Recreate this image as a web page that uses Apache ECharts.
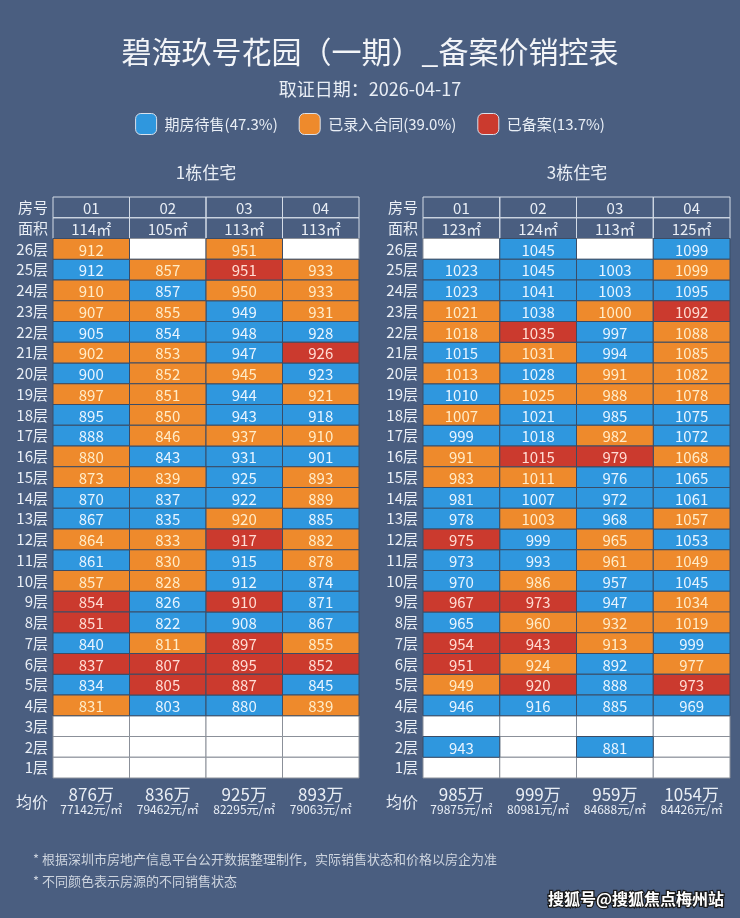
<!DOCTYPE html>
<html><head><meta charset="utf-8">
<script src="https://cdn.jsdelivr.net/npm/echarts@6/dist/echarts.min.js"></script>
<style>html,body{margin:0;padding:0;background:#4a5e80;}#c{width:740px;height:918px;}</style>
</head><body><div id="c"></div>
<script>
// ---------- data ----------
const floors = ['26层','25层','24层','23层','22层','21层','20层','19层','18层','17层','16层','15层','14层','13层','12层','11层','10层','9层','8层','7层','6层','5层','4层','3层','2层','1层'];
const rowLabels = ['房号','面积'].concat(floors);
const units = ['01','02','03','04'];
const buildingNames = ['1栋住宅','3栋住宅'];
const b1Area = ['114㎡','105㎡','113㎡','113㎡'];
const b3Area = ['123㎡','124㎡','113㎡','125㎡'];
// prices in 万, rows from 26层 down to 1层
const b1Prices = [
 [912,null,951,null],[912,857,951,933],[910,857,950,933],[907,855,949,931],[905,854,948,928],
 [902,853,947,926],[900,852,945,923],[897,851,944,921],[895,850,943,918],[888,846,937,910],
 [880,843,931,901],[873,839,925,893],[870,837,922,889],[867,835,920,885],[864,833,917,882],
 [861,830,915,878],[857,828,912,874],[854,826,910,871],[851,822,908,867],[840,811,897,855],
 [837,807,895,852],[834,805,887,845],[831,803,880,839],
 [null,null,null,null],[null,null,null,null],[null,null,null,null]
];
// B = 期房待售, O = 已录入合同, R = 已备案, W = 无
const b1Status = ['OWOW','BORO','OBOO','OOBO','BBBB','OOBR','BOOB','OOBO','BOBB','BOOO','OBBB','OOBO','BBBO','BBOB','OORO','BOBO','OOBB','RBRB','RBBB','BORO','RRRR','BRRB','OBBO','WWWW','WWWW','WWWW'];
const b3Prices = [
 [null,1045,null,1099],[1023,1045,1003,1099],[1023,1041,1003,1095],[1021,1038,1000,1092],[1018,1035,997,1088],
 [1015,1031,994,1085],[1013,1028,991,1082],[1010,1025,988,1078],[1007,1021,985,1075],[999,1018,982,1072],
 [991,1015,979,1068],[983,1011,976,1065],[981,1007,972,1061],[978,1003,968,1057],[975,999,965,1053],
 [973,993,961,1049],[970,986,957,1045],[967,973,947,1034],[965,960,932,1019],[954,943,913,999],
 [951,924,892,977],[949,920,888,973],[946,916,885,969],
 [null,null,null,null],[943,null,881,null],[null,null,null,null]
];
const b3Status = ['WBWB','BBBO','BBBB','OBOR','ORBO','BOBO','OBOO','BOOO','OBBB','BBOB','ORRO','OOBB','BBBB','BOBO','RBOB','BBOO','BOBB','RRBO','BOOO','RROB','ROBO','ORBR','BBBB','WWWW','BWBW','WWWW'];
const b1AvgTotal = ['876万','836万','925万','893万'];
const b1AvgUnit = ['77142元/㎡','79462元/㎡','82295元/㎡','79063元/㎡'];
const b3AvgTotal = ['985万','999万','959万','1054万'];
const b3AvgUnit = ['79875元/㎡','80981元/㎡','84688元/㎡','84426元/㎡'];
const statusNames = {B:'期房待售', O:'已录入合同', R:'已备案'};
const titleText = '碧海玖号花园（一期）_备案价销控表';
const subtitleText = '取证日期：2026-04-17';
const notes = ['* 根据深圳市房地产信息平台公开数据整理制作，实际销售状态和价格以房企为准','* 不同颜色表示房源的不同销售状态'];
const watermark = '搜狐号@搜狐焦点梅州站';

// ---------- style ----------
const FONT = '"Noto Sans CJK SC","Noto Sans",sans-serif';
const BG = '#4a5e80';
const COLORS = {B:'#2f97de', O:'#ee8a2c', R:'#cb3a2e', W:'#ffffff'};
const TEXTC = {B:'#e8f4ff', O:'#ffecc8', R:'#ffdcd4', W:'#333'};
const STROKE = {B:'#3b4c66', O:'#3b4c66', R:'#3b4c66', W:'#8b9099'};
const LIGHT = '#e9eef5';

const buildings = [
  {area:b1Area, prices:b1Prices, status:b1Status, avgT:b1AvgTotal, avgU:b1AvgUnit},
  {area:b3Area, prices:b3Prices, status:b3Status, avgT:b3AvgTotal, avgU:b3AvgUnit}
];

// counts for legend percentages
const counts = {B:0,O:0,R:0};
let total = 0;
buildings.forEach(b => b.status.forEach(row => row.split('').forEach(s => { if (s !== 'W') { counts[s]++; total++; } })));
const legendName = {};
Object.keys(statusNames).forEach(k => { legendName[k] = statusNames[k] + '(' + (counts[k] / total * 100).toFixed(1) + '%)'; });

function cellSeries(name, g, items, fill, stroke, textFill) {
  return {
    type:'custom', name, xAxisIndex:g, yAxisIndex:g, coordinateSystem:'cartesian2d',
    itemStyle:{color: fill === 'none' ? BG : fill},
    data: items.map(it => [it.c, it.r]),
    clip:false, silent:true, animation:false,
    renderItem(params, api) {
      const it = items[params.dataIndex];
      const p = api.coord([api.value(0), api.value(1)]);
      const s = api.size([1, 1]);
      return {type:'group', children:[
        {type:'rect', shape:{x:p[0]-s[0]/2, y:p[1]-s[1]/2, width:s[0], height:s[1]},
         style:{fill: fill === 'none' ? 'rgba(0,0,0,0)' : fill, stroke, lineWidth:1}},
        {type:'text', x:p[0], y:p[1]+1, style:{text:it.t, fill:textFill, fontSize:15, fontFamily:FONT, align:'center', verticalAlign:'middle'}}
      ]};
    }
  };
}

function avgSeries(g, b) {
  return {
    type:'custom', name:'avg'+g, xAxisIndex:g, yAxisIndex:g, coordinateSystem:'cartesian2d',
    data: units.map((u, i) => [i, rowLabels.length - 1]),
    clip:false, silent:true, animation:false,
    renderItem(params, api) {
      const i = params.dataIndex;
      const p = api.coord([api.value(0), api.value(1)]);
      const s = api.size([1, 1]);
      const ch = [
        {type:'text', x:p[0], y:p[1]+s[1]*1.28, style:{text:b.avgT[i], fill:LIGHT, fontSize:17, fontFamily:FONT, align:'center', verticalAlign:'middle'}},
        {type:'text', x:p[0], y:p[1]+s[1]*2.0, style:{text:b.avgU[i], fill:LIGHT, fontSize:12, fontFamily:FONT, align:'center', verticalAlign:'middle'}}
      ];
      if (i === 0) ch.push({type:'text', x:p[0]-s[0]/2-5, y:p[1]+s[1]*1.66, style:{text:'均价', fill:LIGHT, fontSize:16, fontFamily:FONT, align:'right', verticalAlign:'middle'}});
      return {type:'group', children:ch};
    }
  };
}

const series = [];
buildings.forEach((b, g) => {
  const header = units.map((u, i) => ({c:i, r:0, t:u})).concat(b.area.map((a, i) => ({c:i, r:1, t:a})));
  series.push(cellSeries('header'+g, g, header, 'none', '#d3dbe6', LIGHT));
  ['W','B','O','R'].forEach(k => {
    const items = [];
    b.prices.forEach((row, ri) => row.forEach((v, ci) => {
      if (b.status[ri][ci] === k) items.push({c:ci, r:ri+2, t: v == null ? '' : String(v)});
    }));
    series.push(cellSeries(k === 'W' ? 'empty'+g : legendName[k], g, items, COLORS[k], STROKE[k], TEXTC[k]));
  });
  series.push(avgSeries(g, b));
});

const grids = [{left:53, width:306, top:197, height:581}, {left:423, width:307, top:197, height:581}];
const xAxes = grids.map((gr, i) => ({type:'category', gridIndex:i, data:units, show:false}));
const yAxes = grids.map((gr, i) => ({
  type:'category', gridIndex:i, data:rowLabels, inverse:true,
  axisLine:{show:false}, axisTick:{show:false}, splitLine:{show:false},
  axisLabel:{color:LIGHT, fontSize:15, fontFamily:FONT, margin:5}
}));

const chart = echarts.init(document.getElementById('c'));
chart.setOption({
  backgroundColor: BG,
  animation:false,
  grid: grids.map(g => Object.assign({outerBoundsMode:'none', containLabel:false}, g)),
  xAxis: xAxes,
  yAxis: yAxes,
  legend: {
    data: ['B','O','R'].map(k => legendName[k]),
    top:113, left:'center', padding:0, itemWidth:21, itemHeight:21, itemGap:21, icon:'roundRect',
    selectedMode:false,
    itemStyle:{borderColor:'#d9e1ec', borderWidth:1},
    textStyle:{color:LIGHT, fontSize:15, fontFamily:FONT, padding:[0,0,0,3]}
  },
  graphic: [
    {type:'text', x:370, y:52, style:{text:titleText, fill:'#f3f5f8', fontSize:30, fontFamily:FONT, align:'center', verticalAlign:'middle'}},
    {type:'text', x:370, y:89, style:{text:subtitleText, fill:LIGHT, fontSize:18, fontFamily:FONT, align:'center', verticalAlign:'middle'}},
    {type:'text', x:206, y:173, style:{text:buildingNames[0], fill:LIGHT, fontSize:17, fontFamily:FONT, align:'center', verticalAlign:'middle'}},
    {type:'text', x:577, y:173, style:{text:buildingNames[1], fill:LIGHT, fontSize:17, fontFamily:FONT, align:'center', verticalAlign:'middle'}},
    {type:'text', x:33, y:859, style:{text:notes[0], fill:'#cdd4de', fontSize:13, fontFamily:FONT, align:'left', verticalAlign:'middle'}},
    {type:'text', x:33, y:881, style:{text:notes[1], fill:'#cdd4de', fontSize:13, fontFamily:FONT, align:'left', verticalAlign:'middle'}},
    {type:'text', x:724, y:899, style:{text:watermark, fill:'#ffffff', stroke:'#1a1a1a', lineWidth:2.5, fontSize:16, fontWeight:'bold', fontFamily:FONT, align:'right', verticalAlign:'middle'}}
  ],
  series
});
</script></body></html>
